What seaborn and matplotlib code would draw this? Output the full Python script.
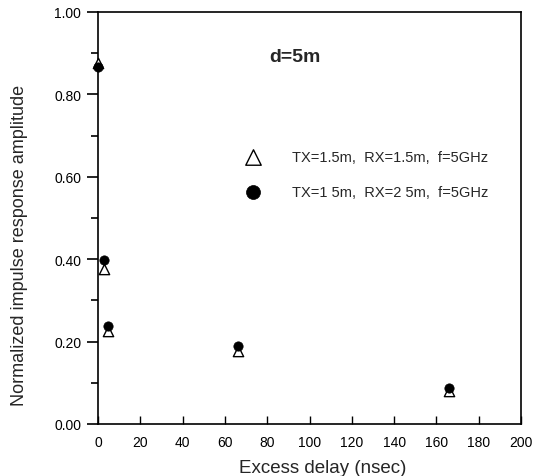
import matplotlib
matplotlib.use("Agg")
import matplotlib.pyplot as plt
import seaborn as sns
import pandas as pd
from matplotlib.ticker import MultipleLocator

sns.set_theme(style="white")
plt.rcParams['font.family'] = ['Liberation Sans', 'DejaVu Sans']

# Data
delay_a = [0.0, 2.8, 4.6, 66.0, 166.0]
amp_a = [0.877, 0.376, 0.226, 0.177, 0.080]   # TX=1.5m, RX=1.5m (open triangles)
delay_b = [0.0, 2.8, 4.6, 66.0, 166.0]
amp_b = [0.866, 0.398, 0.238, 0.189, 0.088]   # TX=1.5m, RX=2.5m (filled circles)
label_a = "TX=1.5m,  RX=1.5m,  f=5GHz"
label_b = "TX=1 5m,  RX=2 5m,  f=5GHz"
x_ticks = [0, 20, 40, 60, 80, 100, 120, 140, 160, 180, 200]
y_ticks = [0.0, 0.2, 0.4, 0.6, 0.8, 1.0]
y_ticklabels = ["0.00", "0.20", "0.40", "0.60", "0.80", "1.00"]

df_a = pd.DataFrame({"delay": delay_a, "amp": amp_a})
df_b = pd.DataFrame({"delay": delay_b, "amp": amp_b})

fig = plt.figure(figsize=(5.4, 4.77), dpi=100)
ax = fig.add_axes([98/540, 52/477, 423/540, 412/477])

sns.scatterplot(data=df_a, x="delay", y="amp", marker="^", s=55,
                facecolor="white", edgecolor="black", linewidth=1.0,
                label=label_a, ax=ax, clip_on=False, zorder=3)
sns.scatterplot(data=df_b, x="delay", y="amp", marker="o", s=45,
                color="black", edgecolor="black", linewidth=0.5,
                label=label_b, ax=ax, clip_on=False, zorder=4)

ax.set_xlim(0, 200)
ax.set_ylim(0, 1.0)
ax.set_xticks(x_ticks)
ax.set_xticklabels([str(t) for t in x_ticks], fontsize=10)
ax.set_yticks(y_ticks)
ax.set_yticklabels(y_ticklabels, fontsize=10)
ax.yaxis.set_minor_locator(MultipleLocator(0.1))

ax.tick_params(axis='y', which='major', direction='out', length=8, width=1.2,
               left=True, right=False, colors='black', pad=4)
ax.tick_params(axis='y', which='minor', direction='out', length=5, width=1.2,
               left=True, right=False, colors='black')
ax.tick_params(axis='x', which='major', direction='in', length=6, width=1.0,
               bottom=True, top=False, colors='black', pad=8)

for sp in ax.spines.values():
    sp.set_visible(True)
    sp.set_color('black')
    sp.set_linewidth(1.2)

ax.set_xlabel("Excess delay (nsec)", fontsize=13.5)
ax.set_ylabel("Normalized impulse response amplitude", fontsize=13)
ax.xaxis.set_label_coords(0.53, -0.085)
ax.yaxis.set_label_coords(-0.165, 0.437)

ax.text(0.405, 0.893, "d=5m", transform=ax.transAxes, fontsize=14,
        fontweight='bold', ha='left', va='center')

leg = ax.legend(loc='upper left', bbox_to_anchor=(0.318, 0.68), frameon=False,
                fontsize=10.5, markerscale=1.5, handletextpad=1.67,
                labelspacing=1.45, borderaxespad=0)

fig.savefig("out.png", dpi=100)
